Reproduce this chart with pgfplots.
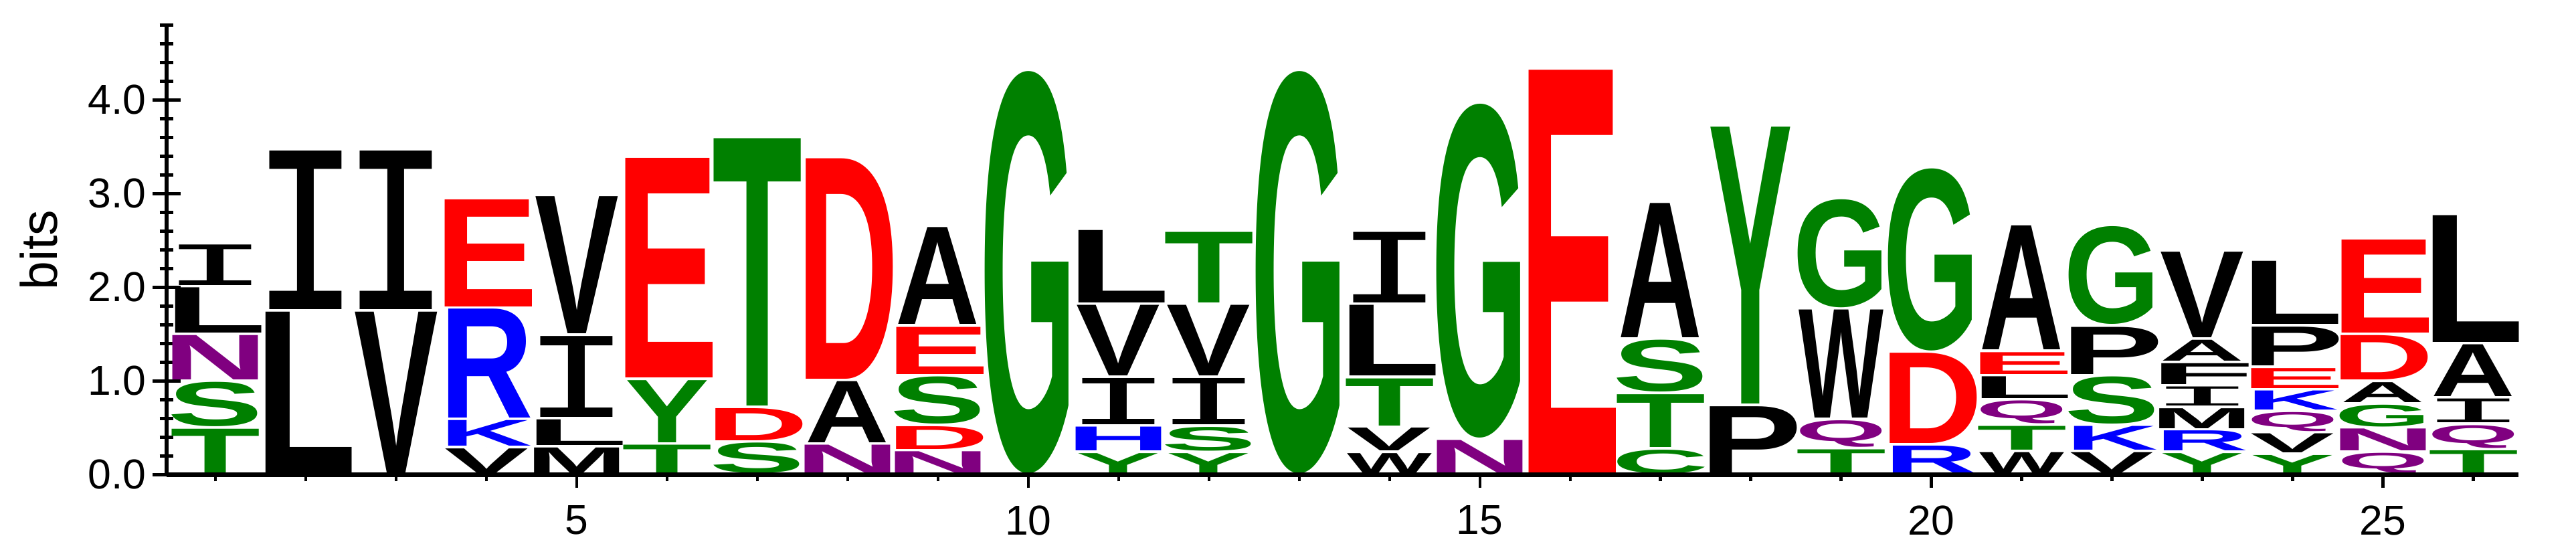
\documentclass[border=0pt]{standalone}
\usepackage{pgfplots}
\pgfplotsset{compat=1.18}
\usepackage{pgfplotstable}
\usepackage{graphicx}
\usepackage{fontspec}
\setmainfont{Liberation Sans}
\newfontfamily\barfont{Liberation Mono}

% weblogo chemistry colours
\definecolor{lgreen}{RGB}{0,128,0}
\definecolor{lpurple}{RGB}{128,0,128}
\definecolor{lblue}{RGB}{0,0,255}
\definecolor{lred}{RGB}{255,0,0}
\colorlet{cG}{lgreen}\colorlet{cS}{lgreen}\colorlet{cT}{lgreen}
\colorlet{cY}{lgreen}\colorlet{cC}{lgreen}
\colorlet{cN}{lpurple}\colorlet{cQ}{lpurple}
\colorlet{cK}{lblue}\colorlet{cR}{lblue}\colorlet{cH}{lblue}
\colorlet{cD}{lred}\colorlet{cE}{lred}
\colorlet{cA}{black}\colorlet{cV}{black}\colorlet{cL}{black}
\colorlet{cI}{black}\colorlet{cP}{black}\colorlet{cW}{black}
\colorlet{cF}{black}\colorlet{cM}{black}

% ink share of each glyph's advance width (percent), so all letters get the same ink width
\def\fA{100}\def\fC{87}\def\fD{82}\def\fE{81}\def\fF{80}\def\fG{87}
\def\fH{80}\def\fI{78}\def\fK{91}\def\fL{82}\def\fM{83}\def\fN{80}
\def\fP{82}\def\fQ{92}\def\fR{90}\def\fS{88}\def\fT{93}\def\fV{100}
\def\fW{99}\def\fY{100}

\newlength\xu \setlength\xu{21.6pt}
\newlength\yu \setlength\yu{22.4pt}
\def\altI{\barfont I}
\newcommand\glyph[1]{\ifcsname alt#1\endcsname\csname alt#1\endcsname\else\bfseries #1\fi}
\newcommand\logoletter[2]{{\edef\tmpc{c#1}\color{\tmpc}%
  \resizebox*{\dimexpr 2010pt/\csname f#1\endcsname\relax}{\dimexpr #2\yu-0.6pt\relax}{\glyph{#1}}}}

% x = position, y0 = bottom of letter (bits), h = letter height (bits)
\pgfplotstableread{
x  y0   h    l
1  0.00 0.50 T
1  0.50 0.50 S
1  1.00 0.50 N
1  1.50 0.51 L
1  2.01 0.46 I
2  0.00 1.75 L
2  1.75 1.72 I
3  0.00 1.75 V
3  1.75 1.72 I
4  0.00 0.29 V
4  0.29 0.30 K
4  0.59 1.19 R
4  1.78 1.17 E
5  0.00 0.30 M
5  0.30 0.30 L
5  0.60 0.89 I
5  1.49 1.49 V
6  0.00 0.33 T
6  0.33 0.69 Y
6  1.02 2.37 E
7  0.00 0.35 S
7  0.35 0.37 D
7  0.72 2.88 T
8  0.00 0.33 N
8  0.33 0.68 A
8  1.01 2.38 D
9  0.00 0.26 N
9  0.26 0.27 D
9  0.53 0.53 S
9  1.06 0.53 E
9  1.59 1.06 A
10 0.00 4.32 G
11 0.00 0.24 Y
11 0.24 0.28 H
11 0.52 0.52 I
11 1.04 0.78 V
11 1.82 0.80 L
12 0.00 0.24 Y
12 0.24 0.28 S
12 0.52 0.52 I
12 1.04 0.78 V
12 1.82 0.78 T
13 0.00 4.32 G
14 0.00 0.24 W
14 0.24 0.27 V
14 0.51 0.53 T
14 1.04 0.78 L
14 1.82 0.78 I
15 0.00 0.38 N
15 0.38 3.59 G
16 0.00 4.33 E
17 0.00 0.28 C
17 0.28 0.59 T
17 0.87 0.58 S
17 1.45 1.46 A
18 0.00 0.74 P
18 0.74 2.98 Y
19 0.00 0.28 T
19 0.28 0.31 Q
19 0.59 1.18 W
19 1.77 1.18 G
20 0.00 0.32 R
20 0.32 0.99 D
20 1.31 1.97 G
21 0.00 0.25 W
21 0.25 0.28 T
21 0.53 0.27 Q
21 0.80 0.26 L
21 1.06 0.26 E
21 1.32 1.35 A
22 0.00 0.25 V
22 0.25 0.28 K
22 0.53 0.53 S
22 1.06 0.53 P
22 1.59 1.07 G
23 0.00 0.24 Y
23 0.24 0.24 R
23 0.48 0.24 M
23 0.72 0.23 I
23 0.95 0.25 F
23 1.20 0.25 A
23 1.45 0.94 V
24 0.00 0.22 Y
24 0.22 0.23 V
24 0.45 0.23 Q
24 0.68 0.23 K
24 0.91 0.24 E
24 1.15 0.44 P
24 1.59 0.70 L
25 0.00 0.24 Q
25 0.24 0.26 N
25 0.50 0.26 G
25 0.76 0.24 A
25 1.00 0.50 D
25 1.50 1.02 E
26 0.00 0.27 T
26 0.27 0.27 Q
26 0.54 0.28 I
26 0.82 0.58 A
26 1.40 1.38 L
}\logo

\begin{document}
\begin{tikzpicture}
\pgfplotsset{
  logoaxis/.style={
    x=\xu, y=\yu,
    xmin=0.46, xmax=26.5, ymin=0, ymax=4.8,
    clip=false,
    tick align=outside,
    every tick/.style={black, line width=0.7pt},
    tick label style={font=\fontsize{10}{12}\selectfont},
    /pgf/number format/assume math mode=true,
  }
}
\begin{axis}[
  logoaxis,
  axis lines=left,
  axis line style={-, line width=1pt},
  xtick=\empty,
  ytick={0,1,2,3,4},
  minor ytick={0.2,0.4,...,4.8},
  major tick length=6.6pt,
  minor tick length=3.3pt,
  yticklabel style={xshift=1.9pt, /pgf/number format/.cd, fixed, fixed zerofill, precision=1},
  ylabel={bits},
  ylabel style={at={(axis description cs:-0.046,0.5)}, anchor=south,
                inner sep=0pt, font=\fontsize{12.3}{14}\selectfont},
]
\addplot[
  scatter, only marks,
  mark=*, mark size=0pt, mark options={draw=none, fill=none},
  point meta=explicit symbolic,
  visualization depends on={\thisrow{h}\as\hgt},
  scatter/@pre marker code/.code={%
    \edef\ltr{\pgfplotspointmeta}%
    \node[inner sep=0pt, outer sep=0pt, anchor=south, yshift=0.3pt]
      at (canvas cs:x=0pt,y=0pt) {\logoletter{\ltr}{\hgt}};%
  },
  scatter/@post marker code/.code={},
] table[x=x, y=y0, meta=l] {\logo};
\coordinate (ll) at (rel axis cs:0,0);
\coordinate (ur) at (rel axis cs:1,1);
\end{axis}
\begin{axis}[
  logoaxis,
  axis x line*=bottom,
  axis line style={-, line width=1pt},
  hide y axis,
  xtick={5,10,...,25},
  minor xtick={1,...,26},
  major tick length=3.2pt,
  minor tick length=1.6pt,
  xticklabel style={yshift=-0.7pt},
]
\end{axis}
\pgfresetboundingbox
\path ([shift={(-39.84pt,-16.96pt)}]ll) rectangle ([shift={(13.76pt,6pt)}]ur);
\end{tikzpicture}
\end{document}
